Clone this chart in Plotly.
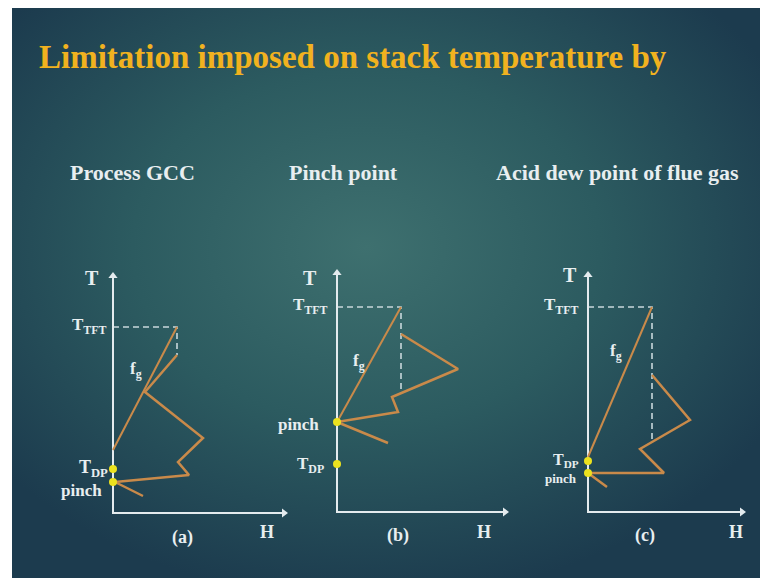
import base64
import plotly.graph_objects as go

# ---------------- data (H, T units) ----------------
title = "Limitation imposed on stack temperature by"
subtitles = ["Process GCC", "Pinch point", "Acid dew point of flue gas"]
panel_tags = ["(a)", "(b)", "(c)"]

# flue gas line f_g (from stack temperature up to T_TFT)
fg_H = [[0, 64], [0, 64], [0, 64]]
fg_T = [[63, 186], [90, 205], [55, 205]]

# process grand composite curve
gcc_H = [[64, 32, 90, 65, 76, 2, 30],
         [64, 121, 55, 61, 0, 51],
         [64, 102, 52, 76, 0, 19]]
gcc_T = [[158, 121, 75, 51, 38, 31, 17],
         [178, 143, 115, 100, 90, 69],
         [137, 92, 63, 39, 39, 25]]

T_TFT = [186, 205, 205]
dash_bottom = [158, 120, 70]
T_DP = [44, 48, 51]
T_pinch = [31, 90, 39]
T_axis_top = [240, 242, 240]
H_axis_end = [174, 171, 157]

# ---------------- layout helpers ----------------
OFF = 8                      # page body margin in the browser
W, Hh = 768 - OFF, 578 - OFF
origins = [(113 - OFF, 513 - OFF), (337 - OFF, 512 - OFF), (588 - OFF, 512 - OFF)]

ORANGE = "#c98a4a"
DASH = "#c9d7db"
AXIS = "#e4ebee"
TXT = "#e8eef0"
YEL = "#ece21e"
SERIF = "Liberation Serif, Times New Roman, serif"

fig = go.Figure()

# background gradient (slide)
svg = ('<svg xmlns="http://www.w3.org/2000/svg" width="754" height="571" viewBox="0 0 754 571" '
       'preserveAspectRatio="none"><defs><radialGradient id="g" cx="0.47" cy="0.42" r="0.62">'
       '<stop offset="0" stop-color="#3e706f"/><stop offset="0.5" stop-color="#2c5b60"/>'
       '<stop offset="1" stop-color="#1c3b4e"/></radialGradient></defs>'
       '<rect width="754" height="571" fill="url(#g)"/></svg>')
src = "data:image/svg+xml;base64," + base64.b64encode(svg.encode()).decode()

layout = dict(
    width=W, height=Hh, margin=dict(l=0, r=0, t=0, b=0),
    paper_bgcolor="white", plot_bgcolor="rgba(0,0,0,0)", showlegend=False,
    images=[dict(source=src, xref="paper", yref="paper", x=(12 - OFF) / W, y=1.0,
                 sizex=754 / W, sizey=1.0, sizing="stretch", layer="below",
                 xanchor="left", yanchor="top")],
)


def px_paper(px, py):
    return (px - OFF) / W, 1 - (py - OFF) / Hh


annotations = []
tx, ty = px_paper(37, 57)
annotations.append(dict(text="<b>" + title + "</b>", xref="paper", yref="paper",
                        x=tx, y=ty, xanchor="left", yanchor="middle",
                        showarrow=False, font=dict(family=SERIF, size=33, color="#f1b21f")))
sub_x = [132, 343, 617]
for sx, st in zip(sub_x, subtitles):
    px_, py_ = px_paper(sx, 172)
    annotations.append(dict(text="<b>" + st + "</b>", xref="paper", yref="paper",
                            x=px_, y=py_, xanchor="center", yanchor="middle",
                            showarrow=False, font=dict(family=SERIF, size=22, color=TXT)))

# label screen-pixel positions per panel: (text, x_px, y_px, xanchor, size)
labels = [
    [("T", 92, 278, "center", 20), ("T<sub>TFT</sub>", 109, 326, "right", 17),
     ("f<sub>g</sub>", 136, 370, "center", 17), ("T<sub>DP</sub>", 110, 468, "right", 18),
     ("pinch", 104, 490, "right", 17), (panel_tags[0], 182, 537, "center", 18),
     ("H", 267, 532, "center", 18)],
    [("T", 310, 278, "center", 20), ("T<sub>TFT</sub>", 330, 306, "right", 17),
     ("f<sub>g</sub>", 359, 362, "center", 17), ("pinch", 321, 424, "right", 17),
     ("T<sub>DP</sub>", 326, 465, "right", 17), (panel_tags[1], 398, 535, "center", 18),
     ("H", 484, 532, "center", 18)],
    [("T", 570, 275, "center", 20), ("T<sub>TFT</sub>", 581, 306, "right", 17),
     ("f<sub>g</sub>", 616, 352, "center", 17), ("T<sub>DP</sub>", 581, 460, "right", 16),
     ("pinch", 579, 478, "right", 13), (panel_tags[2], 645, 535, "center", 18),
     ("H", 736, 532, "center", 18)],
]

for i, (ox, oy) in enumerate(origins):
    n = "" if i == 0 else str(i + 1)
    xa, ya = "x" + n, "y" + n
    layout["xaxis" + n] = dict(domain=[0, 1], range=[-ox, W - ox], visible=False,
                               fixedrange=True, anchor=ya)
    layout["yaxis" + n] = dict(domain=[0, 1], range=[oy - Hh, oy], visible=False,
                               fixedrange=True, anchor=xa)

    # dashed T_TFT construction
    fig.add_trace(go.Scatter(x=[0, fg_H[i][1], fg_H[i][1]],
                             y=[T_TFT[i], T_TFT[i], dash_bottom[i]],
                             mode="lines", line=dict(color=DASH, width=1.6, dash="6px,4px"),
                             xaxis=xa, yaxis=ya, hoverinfo="skip"))
    # axes
    fig.add_trace(go.Scatter(x=[0, 0, H_axis_end[i] - 3], y=[T_axis_top[i] - 3, 0, 0],
                             mode="lines", line=dict(color=AXIS, width=2),
                             xaxis=xa, yaxis=ya, hoverinfo="skip"))
    fig.add_trace(go.Scatter(x=[0, H_axis_end[i] - 3], y=[T_axis_top[i] - 3, 0],
                             mode="markers",
                             marker=dict(symbol=["triangle-up", "triangle-right"], size=8,
                                         color=AXIS, line=dict(width=0)),
                             xaxis=xa, yaxis=ya, hoverinfo="skip"))
    # flue gas line
    fig.add_trace(go.Scatter(x=fg_H[i], y=fg_T[i], mode="lines",
                             line=dict(color=ORANGE, width=2), xaxis=xa, yaxis=ya,
                             hoverinfo="skip"))
    # GCC
    fig.add_trace(go.Scatter(x=gcc_H[i], y=gcc_T[i], mode="lines",
                             line=dict(color=ORANGE, width=2.5), xaxis=xa, yaxis=ya,
                             hoverinfo="skip"))
    # dew point / pinch markers
    fig.add_trace(go.Scatter(x=[0, 0], y=[T_DP[i], T_pinch[i]], mode="markers",
                             marker=dict(color=YEL, size=8), xaxis=xa, yaxis=ya,
                             hoverinfo="skip"))
    for (txt, px, py, xanc, sz) in labels[i]:
        annotations.append(dict(text="<b>" + txt + "</b>", x=px - OFF - ox, y=oy - (py - OFF),
                                xref=xa, yref=ya, xanchor=xanc, yanchor="middle",
                                showarrow=False, font=dict(family=SERIF, size=sz, color=TXT)))

layout["annotations"] = annotations
fig.update_layout(**layout)
fig.write_html("out.html")
